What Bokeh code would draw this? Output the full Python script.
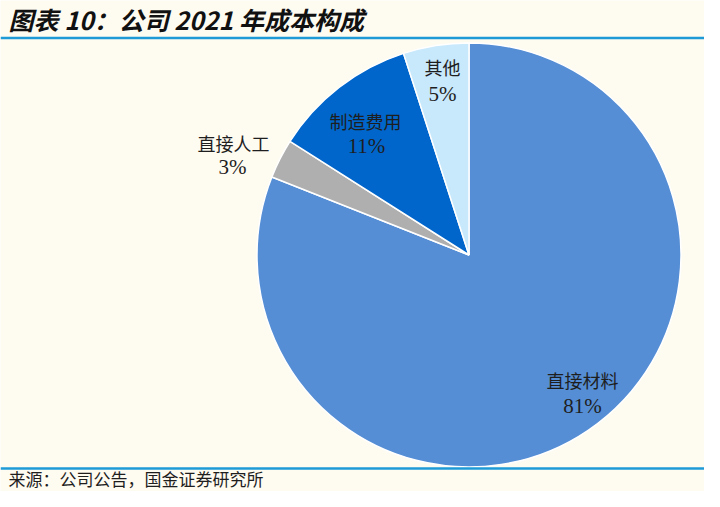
import numpy as np
from bokeh.plotting import figure
from bokeh.models import ColumnDataSource, Span
from bokeh.core.properties import value
from bokeh.embed import file_html
from bokeh.resources import INLINE

# ---- data ----
categories = ["直接材料", "直接人工", "制造费用", "其他"]
shares = [81, 3, 11, 5]
pct_labels = ["81%", "3%", "11%", "5%"]

title_text = "图表 10：公司 2021 年成本构成"
source_text = "来源：公司公告，国金证券研究所"

# ---- style / layout ----
colors = ["#558ED5", "#AFAFAF", "#0066CC", "#C8E8FB"]
BG = "#FEFBF1"
LINE_BLUE = "#1E9BD7"
W, H = 704, 491


def sy(screen_y):
    return H - screen_y


SHIFT = -3.0  # vertical shift applied to the pie block (screen px)

# label centres (screen pixel coords): name line, percent line
name_pos = [(582, 382), (233, 145), (365, 123), (442, 69)]
pct_pos = [(582, 408), (232, 169), (366, 148), (442, 96)]

center = (468.5, 257.5 + SHIFT)
radius = 212

p = figure(width=W, height=H, x_range=(0, W), y_range=(0, H),
           x_axis_type=None, y_axis_type=None,
           output_backend="svg", toolbar_location=None, min_border=0,
           background_fill_color=BG, border_fill_color=BG)
p.grid.visible = False
p.outline_line_color = None

total = float(sum(shares))
cum = np.concatenate([[0.0], np.cumsum(shares)])
start = np.pi / 2 - 2 * np.pi * cum[:-1] / total
end = np.pi / 2 - 2 * np.pi * cum[1:] / total

src = ColumnDataSource(dict(
    x=[center[0]] * len(shares), y=[sy(center[1])] * len(shares),
    start=start, end=end, color=colors, cat=categories, pct=pct_labels,
    nx=[a for a, b in name_pos], ny=[sy(b + SHIFT) for a, b in name_pos],
    px=[a for a, b in pct_pos], py=[sy(b + SHIFT) for a, b in pct_pos],
))

p.wedge(x="x", y="y", radius=radius, start_angle="start", end_angle="end",
        direction="clock", fill_color="color", line_color="white",
        line_width=1.5, source=src)

p.text(x="nx", y="ny", text="cat", source=src,
       text_font=value("Noto Sans CJK SC"), text_font_size="18px",
       text_align="center", text_baseline="middle", text_color="#1E1E1E")
p.text(x="px", y="py", text="pct", source=src,
       text_font=value("Liberation Serif"), text_font_size="21px",
       text_align="center", text_baseline="middle", text_color="#1E1E1E")

# title and source
p.text(x=[8], y=[sy(18.5)], text=[title_text],
       text_font=value("Noto Sans CJK SC"), text_font_size="25px",
       text_font_style="bold italic", text_align="left",
       text_baseline="middle", text_color="#111111")
p.text(x=[8], y=[sy(478)], text=[source_text],
       text_font=value("Noto Sans CJK SC"), text_font_size="17px",
       text_align="left", text_baseline="middle", text_color="#1E1E1E")

p.add_layout(Span(location=sy(37.5), dimension="width",
                  line_color=LINE_BLUE, line_width=2.5))
p.add_layout(Span(location=sy(468), dimension="width",
                  line_color=LINE_BLUE, line_width=2.5))

open("out.html", "w").write(file_html(p, INLINE))
